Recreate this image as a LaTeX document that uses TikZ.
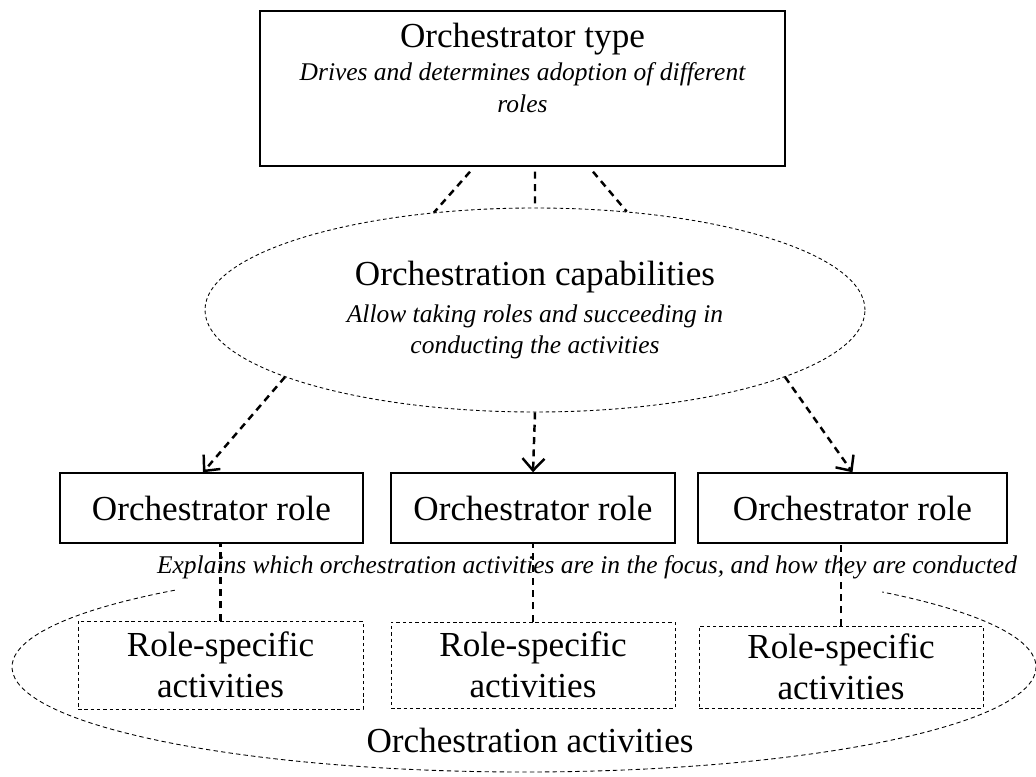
\documentclass[tikz,border=0pt]{standalone}
\usepackage{fontspec}
\setmainfont{Liberation Serif}
\usetikzlibrary{arrows.meta, calc, shapes.geometric}

\begin{document}
\begin{tikzpicture}[
  box/.style = {draw, line width=0.8pt, inner sep=0pt},
  dotbox/.style = {draw, line width=0.5pt, dash pattern=on 2pt off 1.6pt, inner sep=0pt},
  link/.style = {line width=1.4pt, dash pattern=on 4pt off 3pt},
  big/.style = {font=\fontsize{20}{23}\selectfont},
  note/.style = {font=\fontsize{14.5}{18}\selectfont\itshape}]
\useasboundingbox (0,0) rectangle (20.72,15.52);

% orchestrator type
\node[box, minimum width=10.5cm, minimum height=3.1cm] (type) at (10.45,13.75) {};
\node[note, anchor=north, align=center, inner sep=0pt] (typetxt) at ($(type.north)+(0,-0.24)$)
  {{\upshape\fontsize{20}{23}\selectfont Orchestrator type}\\[1pt]
   Drives and determines adoption of different\\ roles};

% capabilities
\node[dotbox, ellipse, minimum width=13.2cm, minimum height=4.08cm, note, align=center] (cap) at (10.7,9.32)
  {{\upshape\fontsize{20}{23}\selectfont Orchestration capabilities}\\[3pt]
   Allow taking roles and succeeding in\\ conducting the activities};

\draw[link] ($(type.south)+(-1.05,-0.1)$) -- (cap.136);
\draw[link] ($(type.south)+(0.25,-0.1)$) -- (cap.90);
\draw[link] ($(type.south)+(1.41,-0.1)$) -- (cap.47);

% roles
\node[box, big, minimum width=6.06cm, minimum height=1.4cm] (role1) at (4.23,5.36) {Orchestrator role};
\node[box, big, minimum width=5.68cm, minimum height=1.4cm] (role2) at (10.66,5.36) {Orchestrator role};
\node[box, big, minimum width=6.18cm, minimum height=1.4cm] (role3) at (17.05,5.36) {Orchestrator role};

\draw[link, -{Straight Barb[length=2.4mm, width=4.4mm]}] (cap.195) -- ($(role1.north)+(-0.17,0)$);
\draw[link, -{Straight Barb[length=2.4mm, width=4.4mm]}] (cap.270) -- (role2.north);
\draw[link, -{Straight Barb[length=2.4mm, width=4.4mm]}] (cap.345) -- (role3.north);

\node[note] (explain) at (11.74,4.18)
  {Explains which orchestration activities are in the focus, and how they are conducted};

% activities
\coordinate (actc) at (10.48,2.18);
\draw[line width=0.5pt, dash pattern=on 2.5pt off 1.8pt]
  (actc) ++(133:10.24cm and 2.1cm) arc[start angle=133, end angle=405.6, x radius=10.24cm, y radius=2.1cm];

\node[dotbox, big, align=center, minimum width=5.7cm, minimum height=1.76cm] (act1) at (4.41,2.22) {Role-specific\\ activities};
\node[dotbox, big, align=center, minimum width=5.68cm, minimum height=1.72cm] (act2) at (10.66,2.22) {Role-specific\\ activities};
\node[dotbox, big, align=center, minimum width=5.68cm, minimum height=1.64cm] (act3) at (16.82,2.18) {Role-specific\\ activities};

\draw[link] (act1.north) -- (act1.north |- role1.south);
\draw[link] (act2.north) -- (act2.north |- role2.south);
\draw[link] (act3.north) -- (act3.north |- role3.south);

\node[big] (acttxt) at (10.6,0.72) {Orchestration activities};
\end{tikzpicture}
\end{document}
